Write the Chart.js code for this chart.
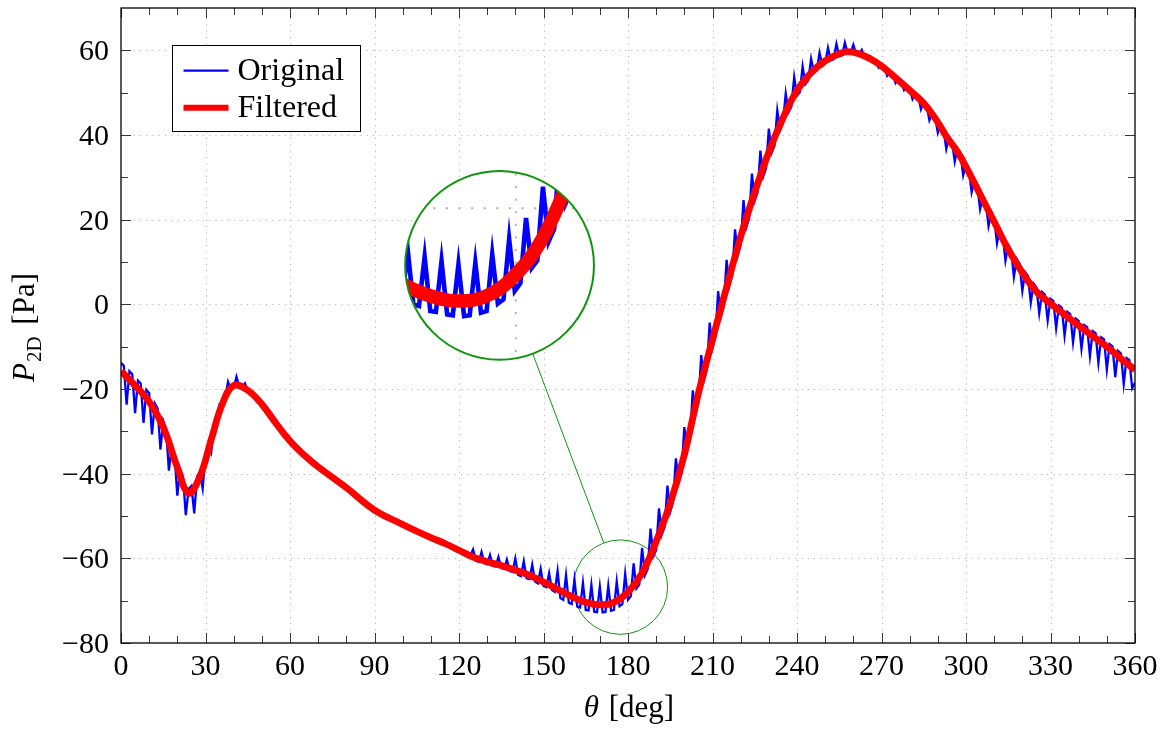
<!DOCTYPE html>
<html>
<head>
<meta charset="utf-8">
<title>P2D versus theta</title>
<script src="https://cdn.jsdelivr.net/npm/chart.js@4.4.1/dist/chart.umd.min.js"></script>
<style>
  html, body { margin: 0; padding: 0; background: #ffffff; }
  canvas { display: block; }
</style>
</head>
<body>
<canvas id="chart" width="1168" height="729"></canvas>
<script>
// Raw pressure signal, one sample per degree from 0 to 360 deg
const originalTheta = Array.from({ length: 361 }, (_, i) => i);
const originalP = [
  -13.8, -14.5, -23.7, -15.8, -16.5, -25.7, -18.0, -18.7, -28.0, -20.2,
  -21.0, -30.7, -23.4, -24.6, -34.3, -27.5, -29.4, -39.3, -33.7, -35.6,
  -45.2, -39.0, -40.6, -49.8, -43.6, -42.9, -49.4, -40.7, -39.7, -43.5,
  -35.4, -33.2, -35.0, -29.4, -27.7, -23.6, -24.0, -22.0, -18.3, -20.1,
  -19.7, -17.1, -19.5, -19.7, -18.7, -20.3, -20.9, -21.2, -22.2, -22.9,
  -23.2, -24.5, -25.4, -26.2, -27.2, -28.1, -28.6, -29.7, -30.5, -30.9,
  -32.3, -32.9, -33.2, -34.2, -34.9, -35.2, -36.1, -36.7, -36.9, -37.9,
  -38.4, -38.5, -39.3, -39.8, -39.9, -40.8, -41.3, -41.4, -42.3, -42.8,
  -42.9, -43.8, -44.4, -44.5, -45.4, -46.0, -46.1, -47.0, -47.5, -47.7,
  -48.6, -48.9, -48.9, -49.6, -50.0, -49.9, -50.6, -51.0, -50.9, -51.7,
  -52.0, -51.9, -52.6, -53.0, -52.9, -53.6, -53.9, -53.8, -54.5, -54.8,
  -54.7, -55.4, -55.7, -55.5, -56.2, -56.5, -56.5, -57.1, -57.5, -57.4,
  -58.1, -58.4, -58.4, -59.1, -59.4, -57.9, -60.6, -60.8, -58.5, -61.2,
  -61.4, -59.2, -61.8, -61.9, -59.7, -62.3, -62.5, -60.3, -63.0, -63.2,
  -60.0, -63.9, -64.2, -60.7, -64.7, -64.9, -61.5, -65.5, -65.9, -62.5,
  -66.5, -66.8, -63.5, -67.5, -67.9, -63.0, -69.4, -69.8, -64.0, -70.5,
  -70.8, -65.0, -71.4, -71.6, -65.8, -72.2, -72.3, -66.3, -72.6, -72.7,
  -66.7, -72.8, -72.7, -66.5, -72.4, -72.2, -65.5, -71.3, -70.8, -63.7,
  -69.8, -68.9, -61.2, -67.1, -66.2, -57.5, -64.0, -62.5, -53.0, -59.5,
  -58.0, -48.2, -54.4, -52.6, -42.8, -49.0, -46.7, -36.4, -42.1, -39.8,
  -29.0, -34.6, -31.7, -20.3, -25.9, -23.0, -12.0, -17.9, -15.4, -4.3,
  -10.3, -7.8, 3.1, -2.9, -0.5, 10.5, 4.4, 6.8, 17.7, 11.6,
  14.0, 24.6, 18.2, 20.3, 30.9, 24.5, 26.4, 36.3, 30.2, 32.1,
  41.5, 35.8, 37.4, 45.8, 41.2, 42.8, 49.8, 45.4, 46.7, 53.7,
  49.3, 50.1, 56.2, 52.0, 52.9, 58.0, 54.7, 55.2, 59.4, 56.3,
  56.9, 60.6, 57.6, 57.9, 61.5, 58.6, 58.8, 61.8, 59.3, 59.3,
  61.3, 59.1, 58.9, 60.1, 58.4, 58.1, 58.6, 57.8, 57.4, 55.9,
  56.6, 56.0, 54.0, 54.9, 54.4, 52.3, 53.2, 52.6, 50.6, 51.5,
  50.9, 48.5, 49.9, 49.3, 46.1, 48.0, 47.1, 43.5, 45.3, 44.4,
  40.5, 42.5, 41.4, 36.7, 39.6, 38.6, 33.7, 36.8, 35.6, 30.5,
  33.3, 32.0, 26.5, 29.4, 28.1, 22.5, 25.5, 24.2, 18.5, 21.7,
  20.4, 14.4, 17.8, 16.5, 10.3, 14.0, 12.9, 6.5, 10.7, 9.6,
  3.2, 7.6, 6.7, 0.4, 4.9, 4.0, -2.1, 2.9, 2.3, -3.8,
  1.3, 0.8, -5.6, -0.3, -0.8, -7.4, -1.8, -2.3, -9.0, -3.4,
  -3.9, -10.5, -4.9, -5.4, -12.2, -6.3, -6.8, -13.8, -7.8, -8.3,
  -15.4, -9.4, -9.9, -17.2, -11.0, -11.6, -18.8, -12.7, -13.2, -19.8,
  -18.5
];

// Filtered signal
const filteredTheta = [
  0, 5, 10, 15, 20, 24, 28, 32, 36, 40, 45, 50, 55, 60, 65, 70, 80, 90, 100, 105,
  110, 115, 120, 125, 130, 135, 140, 145, 150, 155, 160, 165, 170, 175, 180, 185,
  190, 195, 200, 205, 210, 215, 220, 225, 230, 235, 240, 245, 250, 255, 258, 262,
  266, 270, 275, 281, 285, 290, 293, 297, 300, 305, 310, 315, 320, 325, 330, 335,
  340, 345, 350, 355, 360
];
const filteredP = [
  -15.8, -19.2, -23, -29, -38.5, -44.6, -40.7, -32, -23.5, -19.2, -20.3, -23.6, -28.1, -32.3, -35.6, -38.4, -43.3, -48.6, -52, -53.6,
  -55.1, -56.5, -58.1, -59.7, -60.8, -61.7, -62.8, -64, -65.6, -67.3, -69, -70.4, -71, -70.4, -68, -63.5,
  -56, -47, -35.5, -21, -8.3, 4, 16, 26.5, 36, 44, 50.5, 54.7, 57.5, 59.2, 59.7, 59.2,
  58, 56.3, 53.5, 50, 47.5, 43, 39.7, 36, 32.5, 26, 19.5, 13, 7.5, 3, 0.2, -2.4,
  -5, -7.5, -10, -12.8, -15.5
];

// Axes
const xRange = [0, 360];
const yRange = [-80, 70];
const xTickValues = [0, 30, 60, 90, 120, 150, 180, 210, 240, 270, 300, 330, 360];
const xTickLabels = ['0', '30', '60', '90', '120', '150', '180', '210', '240', '270', '300', '330', '360'];
const xMinorTicks = [10, 20, 40, 50, 70, 80, 100, 110, 130, 140, 160, 170, 190, 200, 220, 230, 250, 260, 280, 290, 310, 320, 340, 350];
const yTickValues = [-80, -60, -40, -20, 0, 20, 40, 60];
const yTickLabels = ['\u221280', '\u221260', '\u221240', '\u221220', '0', '20', '40', '60'];
const yMinorTicks = [-70, -50, -30, -10, 10, 30, 50];

// Magnified window: source centre, where the enlarged copy is placed, and magnification
const spySource = { theta: 177.3, p: -66.8 };
const spyTarget = { theta: 134.4, p: 9.2 };
const spyZoom = 2;

const SERIF = '"Liberation Serif", "Times New Roman", serif';
const GREEN = '#0f940f';
const SPY_RADIUS = 47.2;
const MAJOR_TICK = 10;
const MINOR_TICK = 7;

const originalPoints = originalTheta.map((t, i) => ({ x: t, y: originalP[i] }));
const filteredPoints = filteredTheta.map((t, i) => ({ x: t, y: filteredP[i] }));

function drawGrid(chart, ctx) {
  const { left, right, top, bottom } = chart.chartArea;
  const xs = chart.scales.x, ys = chart.scales.y;
  ctx.save();
  ctx.strokeStyle = '#b4b4b4';
  ctx.lineWidth = 1;
  ctx.setLineDash([1.1, 5.2]);
  xTickValues.forEach(v => {
    if (v <= xRange[0] || v >= xRange[1]) return;
    const x = Math.round(xs.getPixelForValue(v)) + 0.5;
    ctx.beginPath(); ctx.moveTo(x, bottom); ctx.lineTo(x, top); ctx.stroke();
  });
  yTickValues.forEach(v => {
    if (v <= yRange[0] || v >= yRange[1]) return;
    const y = Math.round(ys.getPixelForValue(v)) + 0.5;
    ctx.beginPath(); ctx.moveTo(left, y); ctx.lineTo(right, y); ctx.stroke();
  });
  ctx.restore();
}

function drawFrameAndTicks(chart, ctx) {
  const { left, right, top, bottom } = chart.chartArea;
  const xs = chart.scales.x, ys = chart.scales.y;
  ctx.save();
  ctx.strokeStyle = '#3a3a3a';
  ctx.lineWidth = 1;
  const seg = (x1, y1, x2, y2) => { ctx.beginPath(); ctx.moveTo(x1, y1); ctx.lineTo(x2, y2); ctx.stroke(); };
  const xTick = (v, len) => {
    const x = Math.round(xs.getPixelForValue(v)) + 0.5;
    seg(x, bottom, x, bottom - len);
    seg(x, top, x, top + len);
  };
  const yTick = (v, len) => {
    const y = Math.round(ys.getPixelForValue(v)) + 0.5;
    seg(left, y, left + len, y);
    seg(right, y, right - len, y);
  };
  xTickValues.forEach(v => xTick(v, MAJOR_TICK));
  xMinorTicks.forEach(v => xTick(v, MINOR_TICK));
  yTickValues.forEach(v => yTick(v, MAJOR_TICK));
  yMinorTicks.forEach(v => yTick(v, MINOR_TICK));
  ctx.strokeStyle = '#000000';
  ctx.lineWidth = 1.3;
  ctx.strokeRect(left, top, right - left, bottom - top);

  // tick labels
  ctx.fillStyle = '#000000';
  ctx.font = '30px ' + SERIF;
  ctx.textBaseline = 'alphabetic';
  ctx.textAlign = 'center';
  xTickValues.forEach((v, i) => ctx.fillText(xTickLabels[i], xs.getPixelForValue(v), bottom + 32));
  ctx.textAlign = 'right';
  yTickValues.forEach((v, i) => ctx.fillText(yTickLabels[i], left - 12, ys.getPixelForValue(v) + 10));

  // x axis title: theta [deg]
  const cx = (left + right) / 2;
  ctx.textAlign = 'left';
  const italic = 'italic 31px ' + SERIF, upright = '31px ' + SERIF;
  ctx.font = italic; const wTheta = ctx.measureText('\u03b8').width;
  ctx.font = upright; const wUnit = ctx.measureText(' [deg]').width;
  const x0 = cx - (wTheta + wUnit) / 2;
  ctx.font = italic; ctx.fillText('\u03b8', x0, bottom + 74);
  ctx.font = upright; ctx.fillText(' [deg]', x0 + wTheta + 2, bottom + 74);

  // y axis title: P_2D [Pa]
  const cy = (top + bottom) / 2 + 2;
  ctx.save();
  ctx.translate(34, cy);
  ctx.rotate(-Math.PI / 2);
  const subFont = '21px ' + SERIF;
  ctx.font = italic; const wP = ctx.measureText('P').width;
  ctx.font = subFont; const wSub = ctx.measureText('2D').width;
  ctx.font = upright; const wPa = ctx.measureText(' [Pa]').width;
  const total = wP + 1 + wSub + 4 + wPa;
  let tx = -total / 2;
  ctx.font = italic; ctx.fillText('P', tx, 0); tx += wP + 1;
  ctx.font = subFont; ctx.fillText('2D', tx, 7); tx += wSub + 4;
  ctx.font = upright; ctx.fillText(' [Pa]', tx, 0);
  ctx.restore();
  ctx.restore();
}

function drawLegend(chart, ctx) {
  const { left, top } = chart.chartArea;
  const bx = left + 51.5, by = top + 37.5, bw = 188, bh = 86;
  ctx.save();
  ctx.fillStyle = '#ffffff';
  ctx.fillRect(bx, by, bw, bh);
  ctx.strokeStyle = '#000000';
  ctx.lineWidth = 1;
  ctx.strokeRect(bx, by, bw, bh);
  const entries = chart.data.datasets;
  const rowY = [by + 25.2, by + 62.2];
  ctx.font = '32px ' + SERIF;
  ctx.fillStyle = '#000000';
  ctx.textAlign = 'left';
  ctx.textBaseline = 'alphabetic';
  entries.forEach((ds, i) => {
    ctx.strokeStyle = ds.borderColor;
    ctx.lineWidth = Math.min(ds.borderWidth, 6);
    ctx.lineCap = 'butt';
    ctx.beginPath(); ctx.moveTo(bx + 11, rowY[i]); ctx.lineTo(bx + 56, rowY[i]); ctx.stroke();
    ctx.fillText(ds.label, bx + 65, rowY[i] + 9);
  });
  ctx.restore();
}

function spyGeometry(chart) {
  const xs = chart.scales.x, ys = chart.scales.y;
  return {
    sx: xs.getPixelForValue(spySource.theta), sy: ys.getPixelForValue(spySource.p),
    tx: xs.getPixelForValue(spyTarget.theta), ty: ys.getPixelForValue(spyTarget.p),
    r: SPY_RADIUS, R: SPY_RADIUS * spyZoom
  };
}

function drawSpySource(chart, ctx) {
  const g = spyGeometry(chart);
  ctx.save();
  ctx.strokeStyle = GREEN;
  ctx.lineWidth = 1;
  ctx.beginPath(); ctx.arc(g.sx, g.sy, g.r, 0, 2 * Math.PI); ctx.stroke();
  const dx = g.tx - g.sx, dy = g.ty - g.sy, d = Math.hypot(dx, dy);
  const ux = dx / d, uy = dy / d;
  ctx.beginPath();
  ctx.moveTo(g.sx + ux * g.r, g.sy + uy * g.r);
  ctx.lineTo(g.tx - ux * g.R, g.ty - uy * g.R);
  ctx.stroke();
  ctx.restore();
}

function drawSpyInset(chart, ctx) {
  const g = spyGeometry(chart);
  ctx.save();
  ctx.beginPath(); ctx.arc(g.tx, g.ty, g.R, 0, 2 * Math.PI); ctx.clip();
  ctx.fillStyle = '#ffffff';
  ctx.fillRect(g.tx - g.R, g.ty - g.R, 2 * g.R, 2 * g.R);
  ctx.translate(g.tx, g.ty);
  ctx.scale(spyZoom, spyZoom);
  ctx.translate(-g.sx, -g.sy);
  drawGrid(chart, ctx);
  const metas = chart.getSortedVisibleDatasetMetas();
  for (let i = metas.length - 1; i >= 0; i--) {
    metas[i].controller.draw();
  }
  ctx.restore();
  ctx.save();
  ctx.strokeStyle = GREEN;
  ctx.lineWidth = 2;
  ctx.beginPath(); ctx.arc(g.tx, g.ty, g.R, 0, 2 * Math.PI); ctx.stroke();
  ctx.restore();
}

const decorations = {
  id: 'decorations',
  beforeDatasetsDraw(chart) {
    drawGrid(chart, chart.ctx);
    drawSpySource(chart, chart.ctx);
  },
  afterDatasetsDraw(chart) {
    const ctx = chart.ctx;
    drawFrameAndTicks(chart, ctx);
    drawLegend(chart, ctx);
    drawSpyInset(chart, ctx);
  }
};

new Chart(document.getElementById('chart'), {
  type: 'line',
  data: {
    datasets: [
      {
        label: 'Original',
        data: originalPoints,
        borderColor: '#0000ff',
        borderWidth: 2.3,
        pointRadius: 0,
        tension: 0,
        borderJoinStyle: 'miter',
        clip: 0,
        order: 1
      },
      {
        label: 'Filtered',
        data: filteredPoints,
        borderColor: '#ff0000',
        borderWidth: 6.8,
        pointRadius: 0,
        tension: 0.4,
        borderJoinStyle: 'round',
        borderCapStyle: 'butt',
        clip: 0,
        order: 0
      }
    ]
  },
  options: {
    responsive: false,
    animation: false,
    devicePixelRatio: 1,
    layout: { padding: { left: 121, right: 33, top: 8, bottom: 86 } },
    plugins: { legend: { display: false }, tooltip: { enabled: false } },
    scales: {
      x: { type: 'linear', min: xRange[0], max: xRange[1], display: false },
      y: { type: 'linear', min: yRange[0], max: yRange[1], display: false }
    }
  },
  plugins: [decorations]
});
</script>
</body>
</html>
